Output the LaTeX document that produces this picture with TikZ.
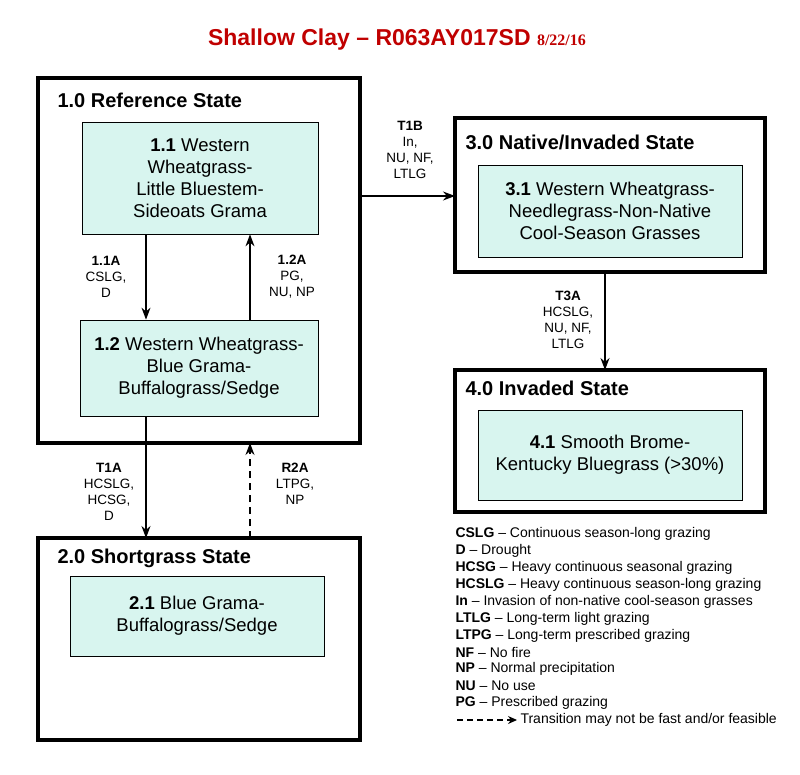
\documentclass[tikz,border=0pt]{standalone}
\usepackage{fontspec}
\setmainfont{Liberation Sans}
\newfontfamily\serifb{Liberation Serif}
\usetikzlibrary{arrows.meta}
\definecolor{boxfill}{HTML}{D8F5EF}
\definecolor{titlered}{HTML}{C00000}
\tikzset{
 statebox/.style={draw,line width=3.5pt},
 comm/.style={draw,fill=boxfill,line width=0.7pt,align=center,font=\fontsize{18.5}{22}\selectfont},
 stitle/.style={anchor=west,font=\fontsize{20}{23}\selectfont\bfseries},
 lab/.style={align=center,font=\fontsize{13.5}{16}\selectfont},
 arr/.style={-{Stealth[length=12pt,width=9pt]},line width=1.2pt},
 leg/.style={anchor=west,font=\fontsize{14}{16}\selectfont}
}
\begin{document}
\begin{tikzpicture}[x=1pt,y=-1pt]
\useasboundingbox (0,0) rectangle (800,775);
\node[font=\fontsize{23}{26}\selectfont\bfseries,text=titlered] (title) at (397,40) {Shallow Clay -- R063AY017SD {\serifb\fontsize{16}{18}\selectfont 8/22/16}};
% boxes
\draw[statebox] (38,78) rectangle (360,443);
\node[stitle] (s1) at (54,100) {1.0 Reference State};
\node[comm,minimum width=236pt,minimum height=112pt] (c11) at (200,178) {\textbf{1.1} Western\\Wheatgrass-\\Little Bluestem-\\Sideoats Grama};
\node[comm,minimum width=238pt,minimum height=96pt] (c12) at (199,368) {\textbf{1.2} Western Wheatgrass-\\Blue Grama-\\Buffalograss/Sedge};
\draw[statebox] (455,118) rectangle (765,272);
\node[stitle] (s3) at (462,142) {3.0 Native/Invaded State};
\node[comm,minimum width=264pt,minimum height=92pt] (c31) at (610,211) {\textbf{3.1} Western Wheatgrass-\\Needlegrass-Non-Native\\Cool-Season Grasses};
\draw[statebox] (455,370) rectangle (765,512);
\node[stitle] (s4) at (462,388) {4.0 Invaded State};
\node[comm,minimum width=264pt,minimum height=90pt] (c41) at (610,455) {\textbf{4.1} Smooth Brome-\\Kentucky Bluegrass (>30\%)};
\draw[statebox] (38,538) rectangle (360,740);
\node[stitle] (s2) at (54,558) {2.0 Shortgrass State};
\node[comm,minimum width=254pt,minimum height=80pt] (c21) at (197,616) {\textbf{2.1} Blue Grama-\\Buffalograss/Sedge};
% named anchors
\coordinate (b1r) at (360,196);
\coordinate (b3l) at (455,196);
\coordinate (b3b) at (605,272);
\coordinate (b4t) at (605,370);
\coordinate (b2t1) at (146,538);
\coordinate (b2t2) at (250,538);
\coordinate (b1b) at (250,443);
% arrows
\draw[arr] (c11.south -| 146,0) -- (c12.north -| 146,0);
\draw[arr] (c12.north -| 250,0) -- (c11.south -| 250,0);
\draw[arr] (b1r) -- (b3l);
\draw[arr] (b3b) -- (b4t);
\draw[arr] (c12.south -| 146,0) -- (b2t1);
\draw[arr,dash pattern=on 7pt off 5pt] (b2t2) -- (b1b);
% labels
\node[lab] (l11a) at (106,277) {\textbf{1.1A}\\CSLG,\\D};
\node[lab] (l12a) at (292,277) {\textbf{1.2A}\\PG,\\NU, NP};
\node[lab] (lt1b) at (410,150) {\textbf{T1B}\\In,\\NU, NF,\\LTLG};
\node[lab] (lt3a) at (568,320) {\textbf{T3A}\\HCSLG,\\NU, NF,\\LTLG};
\node[lab] (lt1a) at (109,492) {\textbf{T1A}\\HCSLG,\\HCSG,\\D};
\node[lab] (lr2a) at (295,484) {\textbf{R2A}\\LTPG,\\NP};
% legend
\foreach \i/\a/\b in {0/CSLG/Continuous season-long grazing,1/D/Drought,2/HCSG/Heavy continuous seasonal grazing,3/HCSLG/Heavy continuous season-long grazing,4/In/Invasion of non-native cool-season grasses,5/LTLG/Long-term light grazing,6/LTPG/Long-term prescribed grazing,7/NF/No fire,8/NP/Normal precipitation,9/NU/No use,10/PG/Prescribed grazing}
  \node[leg] (leg\i) at (452,{534+16.9*\i}) {\textbf{\a} -- \b};
\coordinate (d1) at (457,720);
\coordinate (d2) at (517,720);
\draw[-{Stealth[length=9pt,width=8pt]},line width=1.2pt,dash pattern=on 6pt off 4pt] (d1) -- (d2);
\node[leg] (leg11) at (517,720) {Transition may not be fast and/or feasible};
\end{tikzpicture}
\end{document}
